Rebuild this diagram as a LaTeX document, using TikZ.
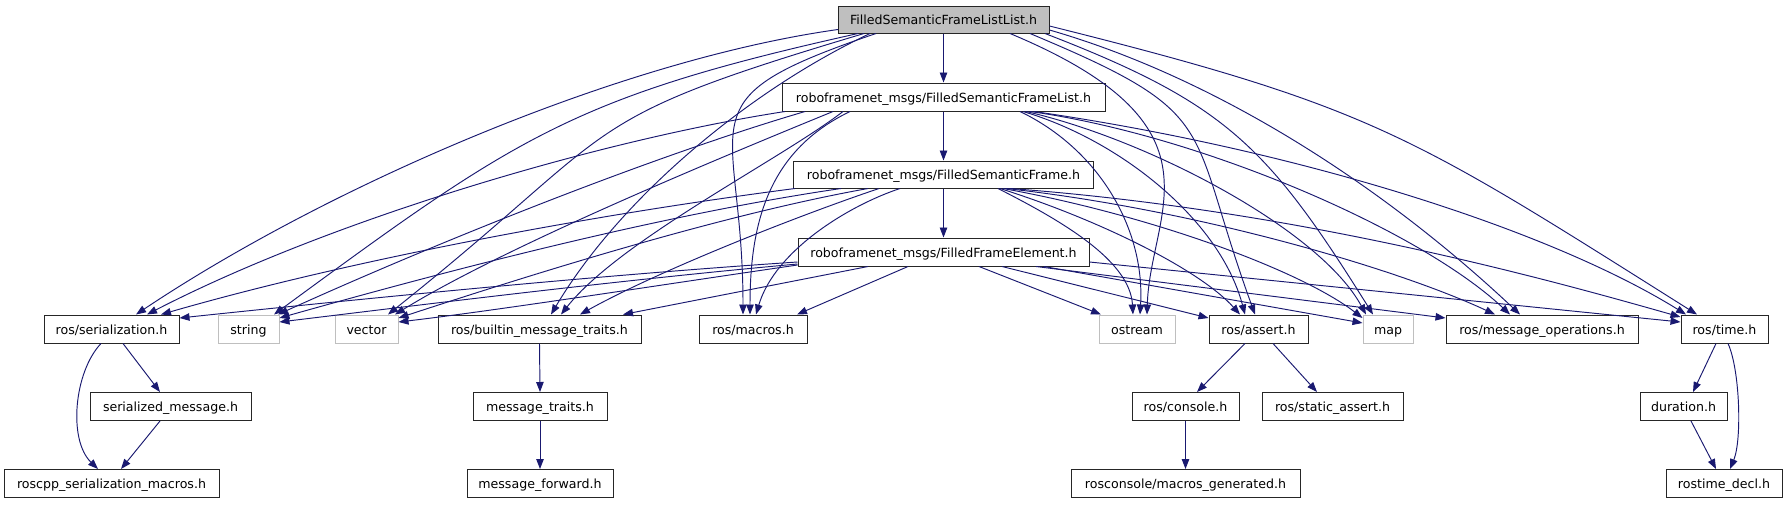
\documentclass[tikz,border=0pt]{standalone}
\usepackage{fontspec}
\setmainfont{DejaVu Sans}
\usetikzlibrary{arrows.meta,calc}
\definecolor{edgeblue}{HTML}{191970}
\definecolor{extgray}{HTML}{BFBFBF}
\definecolor{boxline}{HTML}{262626}
\begin{document}
\begin{tikzpicture}[x=1pt,y=-1pt,
  box/.style={draw=boxline, line width=1pt, fill=white, inner sep=0pt,
    minimum height=28pt, text height=10pt, text depth=0pt,
    font=\fontsize{12.6}{15}\selectfont, text=black},
  ext/.style={box, draw=extgray},
  edge/.style={draw=edgeblue, line width=0.95pt, -{Triangle[length=10pt,width=7.5pt]}}]
\useasboundingbox (0,0) rectangle (1787,504);
% nodes
\node[box, fill=extgray, minimum width=211pt, minimum height=27pt] (A) at (943.5,19.5) {FilledSemanticFrameListList.h};
\node[box, minimum width=323pt] (B) at (943.5,97) {roboframenet\_msgs/FilledSemanticFrameList.h};
\node[box, minimum width=300pt, minimum height=27pt] (C) at (943.5,174.5) {roboframenet\_msgs/FilledSemanticFrame.h};
\node[box, minimum width=291pt] (D) at (943.5,252) {roboframenet\_msgs/FilledFrameElement.h};
\node[box, minimum width=135pt] (ser) at (111.5,329) {ros/serialization.h};
\node[ext, minimum width=61pt] (str) at (248.5,329) {string};
\node[ext, minimum width=63pt] (vec) at (366.5,329) {vector};
\node[box, minimum width=203pt] (bmt) at (539.5,329) {ros/builtin\_message\_traits.h};
\node[box, minimum width=108pt] (mac) at (753,329) {ros/macros.h};
\node[ext, minimum width=76pt] (ost) at (1137,329) {ostream};
\node[box, minimum width=99pt] (ast) at (1258.5,329) {ros/assert.h};
\node[ext, minimum width=50pt] (map) at (1388,329) {map};
\node[box, minimum width=192pt] (mop) at (1542,329) {ros/message\_operations.h};
\node[box, minimum width=87pt] (tim) at (1724.5,329) {ros/time.h};
\node[box, minimum width=161pt] (smg) at (170.5,406.5) {serialized\_message.h};
\node[box, minimum width=134pt] (mtr) at (540,406.5) {message\_traits.h};
\node[box, minimum width=107pt] (con) at (1185.5,406.5) {ros/console.h};
\node[box, minimum width=141pt] (sas) at (1332.5,406.5) {ros/static\_assert.h};
\node[box, minimum width=87pt] (dur) at (1683.5,406.5) {duration.h};
\node[box, minimum width=215pt] (rsm) at (111.5,483.5) {roscpp\_serialization\_macros.h};
\node[box, minimum width=146pt] (mfw) at (540,483.5) {message\_forward.h};
\node[box, minimum width=229pt] (rmg) at (1185.5,483.5) {rosconsole/macros\_generated.h};
\node[box, minimum width=116pt] (rtd) at (1724,483.5) {rostime\_decl.h};
% edges from A
\draw[edge] (A.south) -- (B.north);
\draw[edge] ($(A.south)+(-105.5,-4)$) .. controls (620,60) and (330,185) .. ($(ser.north)+(24.5,0)$);
\draw[edge] ($(A.south)+(-85.5,0)$) .. controls (572,97) and (516,137) .. ($(str.north)+(25.5,0)$);
\draw[edge] ($(A.south)+(-79.5,0)$) .. controls (567,122) and (628,123) .. ($(vec.north)+(21.5,0)$);
\draw[edge] ($(A.south)+(-73.5,0)$) .. controls (750,90) and (621,197) .. ($(bmt.north)+(11.5,0)$);
\draw[edge] ($(A.south)+(-67.5,0)$) .. controls (677,101) and (743,114) .. ($(mac.north)+(-10,0)$);
\draw[edge] ($(A.south)+(66.5,0)$) .. controls (1232,126) and (1150,211) .. ($(ost.north)+(10,0)$);
\draw[edge] ($(A.south)+(86.5,0)$) .. controls (1225,115) and (1185,122) .. ($(ast.north)+(-3.5,0)$);
\draw[edge] ($(A.south)+(101.5,0)$) .. controls (1225,103) and (1267,145) .. ($(map.north)+(-15,0)$);
\draw[edge] ($(A.east)+(0,10.5)$) .. controls (1223,80) and (1390,192) .. ($(mop.north)+(-22,0)$);
\draw[edge] ($(A.east)+(0,6.5)$) .. controls (1374,107) and (1412,135) .. ($(tim.north)+(-27.5,0)$);
% edges from B
\draw[edge] (B.south) -- (C.north);
\draw[edge] ($(B.south)+(-158.5,0)$) .. controls (600,140) and (330,220) .. ($(ser.north)+(35.5,0)$);
\draw[edge] ($(B.south)+(-138.5,0)$) .. controls (640,160) and (420,250) .. ($(str.north)+(29.5,0)$);
\draw[edge] ($(B.south)+(-110.5,0)$) .. controls (690,170) and (500,250) .. ($(vec.north)+(28.5,0)$);
\draw[edge] ($(B.south)+(-100.5,0)$) .. controls (780,160) and (620,240) .. ($(bmt.north)+(21.5,0)$);
\draw[edge] ($(B.south)+(-93.5,0)$) .. controls (770,150) and (750,220) .. ($(mac.north)+(-3,0)$);
\draw[edge] ($(B.south)+(76.5,0)$) .. controls (1100,150) and (1145,230) .. ($(ost.north)+(3,0)$);
\draw[edge] ($(B.south)+(79.5,0)$) .. controls (1120,140) and (1220,220) .. ($(ast.north)+(-13.5,0)$);
\draw[edge] ($(B.south)+(82.5,0)$) .. controls (1150,140) and (1320,230) .. ($(map.north)+(-22,0)$);
\draw[edge] ($(B.south)+(86.5,0)$) .. controls (1200,135) and (1420,230) .. ($(mop.north)+(-32,0)$);
\draw[edge] ($(B.south)+(90.5,0)$) .. controls (1300,150) and (1550,230) .. ($(tim.north)+(-38.5,0)$);
% edges from C
\draw[edge] (C.south) -- (D.north);
\draw[edge] ($(C.south)+(-148.5,0)$) .. controls (590,215) and (350,260) .. ($(ser.north)+(49.5,0)$);
\draw[edge] ($(C.south)+(-102.5,0)$) .. controls (660,215) and (450,270) .. ($(str.east)+(0,-11)$);
\draw[edge] ($(C.south)+(-75.5,0)$) .. controls (720,215) and (530,275) .. ($(vec.east)+(0,-11)$);
\draw[edge] ($(C.south)+(-64.5,0)$) .. controls (800,215) and (660,270) .. ($(bmt.north)+(40.5,0)$);
\draw[edge] ($(C.south)+(-43.5,0)$) .. controls (850,205) and (775,250) .. ($(mac.north)+(3,0)$);
\draw[edge] ($(C.south)+(54.5,0)$) .. controls (1060,220) and (1130,260) .. ($(ost.north)+(-4,0)$);
\draw[edge] ($(C.south)+(56.5,0)$) .. controls (1100,220) and (1200,270) .. ($(ast.north)+(-18.5,0)$);
\draw[edge] ($(C.south)+(59.5,0)$) .. controls (1150,215) and (1300,270) .. ($(map.west)+(0,-11)$);
\draw[edge] ($(C.south)+(62.5,0)$) .. controls (1200,210) and (1400,270) .. ($(mop.north)+(-47,0)$);
\draw[edge] ($(C.south)+(66.5,0)$) .. controls (1300,210) and (1550,280) .. ($(tim.west)+(0,-12)$);
% edges from D
\draw[edge] ($(D.west)+(0,10)$) .. controls (600,275) and (350,300) .. ($(ser.east)+(0,-11)$);
\draw[edge] ($(D.west)+(0,12)$) .. controls (620,280) and (420,305) .. ($(str.east)+(0,-7)$);
\draw[edge] ($(D.west)+(0,13)$) .. controls (660,285) and (500,310) .. ($(vec.east)+(0,-7)$);
\draw[edge] ($(D.south)+(-75.5,0)$) -- ($(bmt.north)+(83.5,0)$);
\draw[edge] ($(D.south)+(-35.5,0)$) -- ($(mac.north)+(44,0)$);
\draw[edge] ($(D.south)+(35.5,0)$) -- ($(ost.north)+(-36,0)$);
\draw[edge] ($(D.south)+(58.5,0)$) -- ($(ast.west)+(0,-11)$);
\draw[edge] ($(D.south)+(100.5,0)$) -- ($(map.west)+(0,-6)$);
\draw[edge] ($(D.south)+(92.5,0)$) -- ($(mop.west)+(0,-11)$);
\draw[edge] ($(D.east)+(0,10)$) -- ($(tim.west)+(0,-7)$);
% lower edges
\draw[edge] ($(ser.south)+(11.5,0)$) -- ($(smg.north)+(-10.5,0)$);
\draw[edge] ($(ser.south)+(-10.5,0)$) .. controls (74,372) and (68,440) .. ($(rsm.north)+(-13.5,0)$);
\draw[edge] ($(smg.south)+(-10.5,0)$) -- ($(rsm.north)+(9.5,0)$);
\draw[edge] (bmt.south) -- (mtr.north);
\draw[edge] (mtr.south) -- (mfw.north);
\draw[edge] ($(ast.south)+(-13.5,0)$) -- ($(con.north)+(11.5,0)$);
\draw[edge] ($(ast.south)+(14.5,0)$) -- ($(sas.north)+(-15.5,0)$);
\draw[edge] (con.south) -- (rmg.north);
\draw[edge] ($(tim.south)+(-8.5,0)$) -- ($(dur.north)+(9.5,0)$);
\draw[edge] ($(tim.south)+(3.5,0)$) .. controls (1740,370) and (1742,440) .. ($(rtd.north)+(6,0)$);
\draw[edge] ($(dur.south)+(7.5,0)$) -- ($(rtd.north)+(-8,0)$);
\end{tikzpicture}
\end{document}
